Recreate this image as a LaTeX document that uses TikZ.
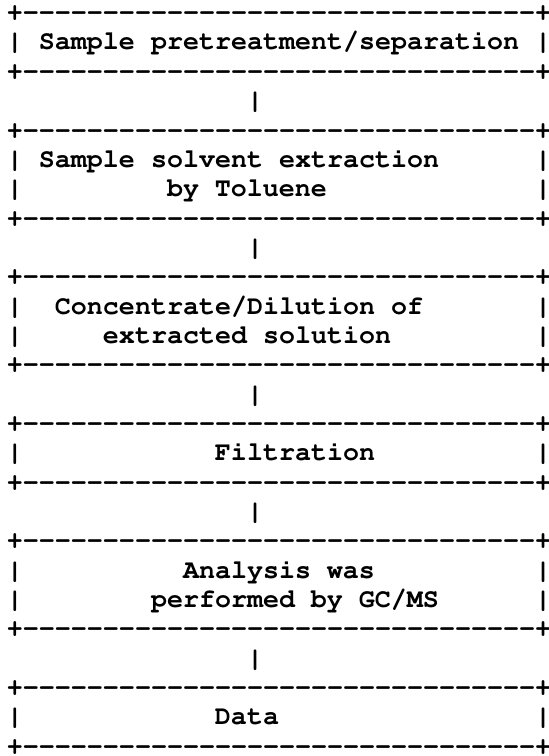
\documentclass[tikz,border=0pt]{standalone}
\usepackage[T1]{fontenc}
\usepackage{tikz}
\usetikzlibrary{positioning}

\newcommand{\asciifont}{\fontsize{20pt}{22pt}\fontfamily{pcr}\fontseries{b}\selectfont}
\newlength{\charw}
\setlength{\charw}{12pt}
\newcommand{\padchars}[1]{\hspace*{#1\charw}}
\newcommand{\asciiedge}{+\foreach \k in {1,...,32}{-}+}

\begin{document}
\begin{tikzpicture}[
  every node/.style={inner sep=0pt, outer sep=0pt, font=\asciifont},
  box/.style={align=left},
  link/.style={midway, xshift=-18pt}
]

% one text line is 22pt high
\def\gapline{22pt}

\useasboundingbox (0,0) rectangle (411.75pt,-567pt);

% Boxes, one line apart
\node (pretreat) [box, anchor=north west] at (5.25pt,-0.1pt)
  {\strut\asciiedge\\
   \strut| Sample pretreatment/separation |\\
   \strut\asciiedge};

\node (extract) [box, below=\gapline of pretreat]
  {\strut\asciiedge\\
   \strut| Sample solvent extraction\padchars{6}|\\
   \strut|\padchars{9}by Toluene\padchars{13}|\\
   \strut\asciiedge};

\node (concentrate) [box, below=\gapline of extract]
  {\strut\asciiedge\\
   \strut|\padchars{2}Concentrate/Dilution of\padchars{7}|\\
   \strut|\padchars{5}extracted solution\padchars{9}|\\
   \strut\asciiedge};

\node (filtration) [box, below=\gapline of concentrate]
  {\strut\asciiedge\\
   \strut|\padchars{12}Filtration\padchars{10}|\\
   \strut\asciiedge};

\node (analysis) [box, below=\gapline of filtration]
  {\strut\asciiedge\\
   \strut|\padchars{10}Analysis was\padchars{10}|\\
   \strut|\padchars{8}performed by GC/MS\padchars{6}|\\
   \strut\asciiedge};

\node (data) [box, below=\gapline of analysis]
  {\strut\asciiedge\\
   \strut|\padchars{12}Data\padchars{16}|\\
   \strut\asciiedge};

% Bars between the boxes
\path (pretreat) -- (extract) node[link] (link1) {\strut|};
\path (extract) -- (concentrate) node[link] (link2) {\strut|};
\path (concentrate) -- (filtration) node[link] (link3) {\strut|};
\path (filtration) -- (analysis) node[link] (link4) {\strut|};
\path (analysis) -- (data) node[link] (link5) {\strut|};

\end{tikzpicture}
\end{document}
